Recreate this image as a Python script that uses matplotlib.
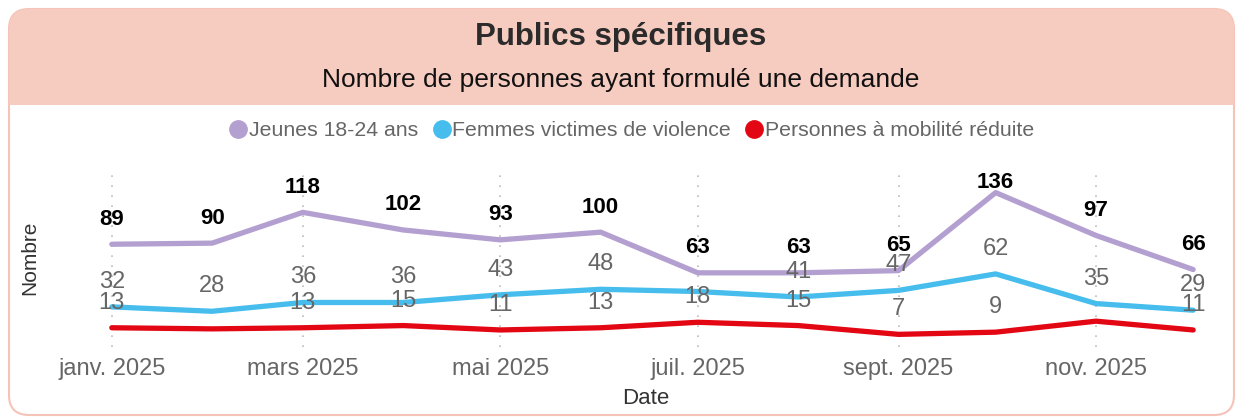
import datetime as dt
import matplotlib
matplotlib.use("Agg")
import matplotlib.pyplot as plt
from matplotlib.patches import FancyBboxPatch, Rectangle
from matplotlib.lines import Line2D

plt.rcParams["font.family"] = ["Liberation Sans", "DejaVu Sans"]

# -------- data --------
months = [dt.date(2025, m, 1) for m in range(1, 13)]
jeunes = [89, 90, 118, 102, 93, 100, 63, 63, 65, 136, 97, 66]
femmes = [32, 28, 36, 36, 43, 48, 46, 41, 47, 62, 35, 29]
mobilite = [13, 12, 13, 15, 11, 13, 18, 15, 7, 9, 19, 11]

series_names = ["Jeunes 18-24 ans", "Femmes victimes de violence",
                "Personnes à mobilité réduite"]
colors = ["#B4A0D0", "#46BDEC", "#E30613"]
# labels the original hides because they collide
hidden = [set(), {6}, {1, 10}]

mois_fr = ["janv.", "févr.", "mars", "avr.", "mai", "juin",
           "juil.", "août", "sept.", "oct.", "nov.", "déc."]

W, H = 1242, 418
fig = plt.figure(figsize=(W / 100, H / 100), dpi=100)

# -------- card background --------
bg = fig.add_axes([0, 0, 1, 1])
bg.set_xlim(0, W)
bg.set_ylim(H, 0)
bg.axis("off")
pink = "#F6CBC0"
bg.add_patch(FancyBboxPatch((9, 9), 1225, 406, boxstyle="round,pad=0,rounding_size=20",
                            fc="white", ec="#F5C3B8", lw=1.5))
bg.add_patch(FancyBboxPatch((9, 9), 1225, 96, boxstyle="round,pad=0,rounding_size=20",
                            fc=pink, ec="none"))
bg.add_patch(Rectangle((9, 60), 1225, 45, fc=pink, ec="none"))

fig.text(0.5, 1 - 37 / H, "Publics spécifiques", ha="center", va="center",
         fontsize=22.5, fontweight="bold", color="#2b2b2b")
fig.text(0.5, 1 - 80 / H, "Nombre de personnes ayant formulé une demande",
         ha="center", va="center", fontsize=19, color="#111111")

# -------- chart --------
ax = fig.add_axes([60 / W, (H - 347) / H, (1232 - 60) / W, (347 - 175) / H])
ax.set_xlim(dt.date(2024, 12, 16), dt.date(2025, 12, 13))
ax.set_ylim(-4.5, 152)

top_px = H - 183  # labels are kept below this line (display coords, origin bottom)
series = [jeunes, femmes, mobilite]
for i, (vals, col) in enumerate(zip(series, colors)):
    ax.plot(months, vals, color=col, lw=3.8, solid_capstyle="round",
            solid_joinstyle="round", zorder=3)
    for j, (d, v) in enumerate(zip(months, vals)):
        if j in hidden[i]:
            continue
        if i == 0:
            py = ax.transData.transform((0, v))[1]
            off = min(25, top_px - py) * 72 / 100
            ax.annotate(str(v), (d, v), xytext=(0, off), textcoords="offset points",
                        ha="center", va="center", fontsize=16, fontweight="bold",
                        color="black", zorder=5)
        else:
            ax.annotate(str(v), (d, v), xytext=(0, 18), textcoords="offset points",
                        ha="center", va="center", fontsize=17, color="#666666",
                        zorder=4)

ticks = [dt.date(2025, m, 1) for m in (1, 3, 5, 7, 9, 11)]
ax.set_xticks(ticks)
ax.set_xticklabels([f"{mois_fr[t.month - 1]} {t.year}" for t in ticks],
                   fontsize=17, color="#666666")
ax.tick_params(axis="x", length=0, pad=8)
ax.set_yticks([])
for s in ax.spines.values():
    s.set_visible(False)
for t in ticks:
    ax.axvline(t, color="#bbbbbb", lw=1.2, ls=(0, (1, 5)), zorder=1)
ax.patch.set_alpha(0)

ax.set_xlabel("Date", fontsize=16, color="#333333", labelpad=6)
fig.text(30 / W, 1 - 258 / H, "Nombre", rotation=90, ha="center", va="center",
         fontsize=15, color="#333333")

handles = [Line2D([], [], marker="o", ls="none", color=c, markersize=12.5) for c in colors]
fig.legend(handles, series_names, loc="center", bbox_to_anchor=(0.508, 1 - 131 / H),
           ncol=3, frameon=False, fontsize=15.3, labelcolor="#666666",
           handletextpad=0.0, columnspacing=0.6, handlelength=1.0)

fig.savefig("out.png", dpi=100)
